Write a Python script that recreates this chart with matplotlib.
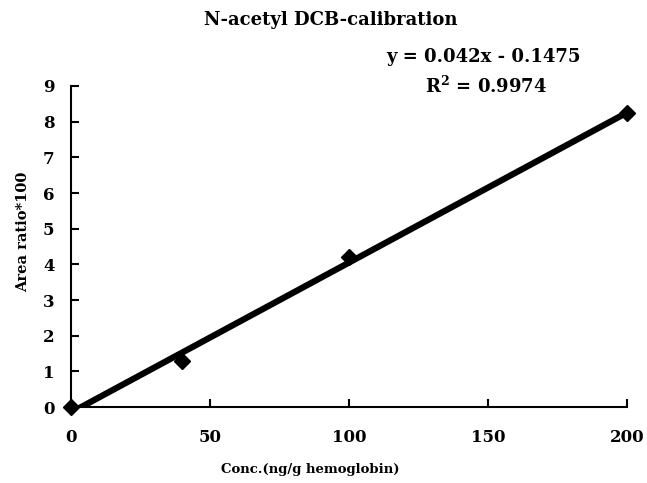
import matplotlib
matplotlib.use("Agg")
import matplotlib.pyplot as plt
import numpy as np

conc = [0, 40, 100, 200]
area_ratio = [0.0, 1.3, 4.2, 8.25]
slope = 0.042
intercept = -0.1475
x_ticks = [0, 50, 100, 150, 200]
y_ticks = [0, 1, 2, 3, 4, 5, 6, 7, 8, 9]

plt.rcParams['font.family'] = ['DejaVu Serif']
plt.rcParams['font.weight'] = 'bold'
plt.rcParams['mathtext.fontset'] = 'dejavuserif'

fig = plt.figure(figsize=(6.47, 4.83), dpi=100)
ax = fig.add_axes([0.110, 0.157, 0.859, 0.665])

xfit = np.array([conc[0], conc[-1]])
ax.plot(xfit, slope * xfit + intercept, color='black', lw=4.5, solid_capstyle='butt', zorder=2)
ax.plot(conc, area_ratio, linestyle='none', marker='D', color='black', markersize=8, clip_on=False, zorder=3)

ax.set_xlim(0, 200)
ax.set_ylim(0, 9)
ax.set_xticks(x_ticks)
ax.set_yticks(y_ticks)
for s in ['top', 'right']:
    ax.spines[s].set_visible(False)
for s in ['left', 'bottom']:
    ax.spines[s].set_linewidth(1.5)
ax.tick_params(direction='in', length=6, width=1.5, labelsize=12)
ax.tick_params(axis='y', pad=12)
ax.tick_params(axis='x', pad=16)
for lab in ax.get_xticklabels() + ax.get_yticklabels():
    lab.set_fontweight('bold')

fig.text(0.511, 0.958, 'N-acetyl DCB-calibration', ha='center', va='center', fontsize=13, fontweight='bold')
fig.text(0.748, 0.882, 'y = 0.042x - 0.1475', ha='center', va='center', fontsize=13, fontweight='bold')
fig.text(0.752, 0.822, 'R$^\\mathbf{2}$ = 0.9974', ha='center', va='center', fontsize=13, fontweight='bold')
fig.text(0.480, 0.027, 'Conc.(ng/g hemoglobin)', ha='center', va='center', fontsize=9.5, fontweight='bold')
fig.text(0.036, 0.520, 'Area ratio*100', ha='center', va='center', rotation=90, fontsize=10.5, fontweight='bold')

fig.savefig('out.png', dpi=100)
